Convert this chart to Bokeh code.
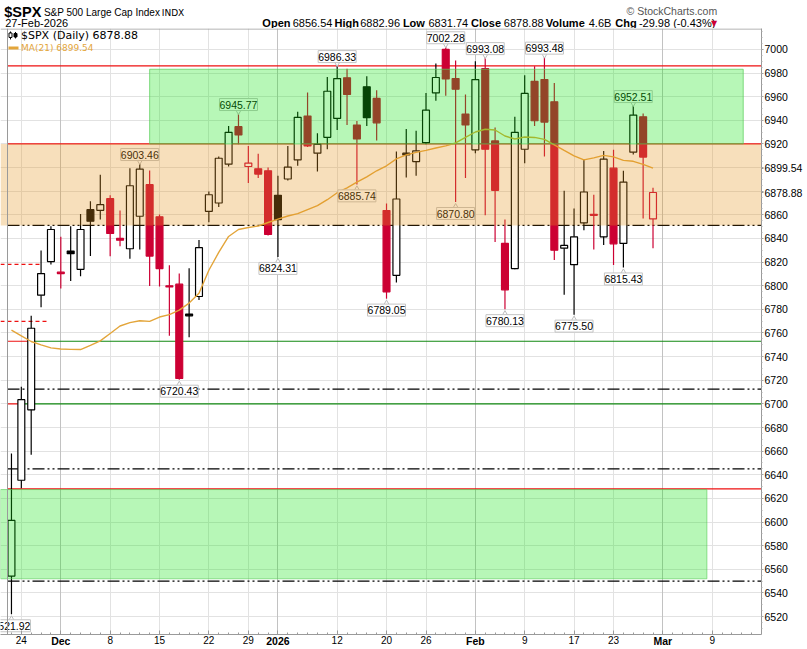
from bokeh.plotting import figure
from bokeh.layouts import column
from bokeh.models import ColumnDataSource, FixedTicker, Grid, Label, Range1d, LinearAxis, Span
from bokeh.core.properties import value
from bokeh.embed import file_html
from bokeh.resources import INLINE

# ---------------- data ----------------
dates = ["2025-11-21", "2025-11-24", "2025-11-25", "2025-11-26", "2025-11-28",
         "2025-12-01", "2025-12-02", "2025-12-03", "2025-12-04", "2025-12-05",
         "2025-12-08", "2025-12-09", "2025-12-10", "2025-12-11", "2025-12-12",
         "2025-12-15", "2025-12-16", "2025-12-17", "2025-12-18", "2025-12-19",
         "2025-12-22", "2025-12-23", "2025-12-24", "2025-12-26", "2025-12-29",
         "2025-12-30", "2025-12-31", "2026-01-02", "2026-01-05", "2026-01-06",
         "2026-01-07", "2026-01-08", "2026-01-09", "2026-01-12", "2026-01-13",
         "2026-01-14", "2026-01-15", "2026-01-16", "2026-01-20", "2026-01-21",
         "2026-01-22", "2026-01-23", "2026-01-26", "2026-01-27", "2026-01-28",
         "2026-01-29", "2026-01-30", "2026-02-02", "2026-02-03", "2026-02-04",
         "2026-02-05", "2026-02-06", "2026-02-09", "2026-02-10", "2026-02-11",
         "2026-02-12", "2026-02-13", "2026-02-17", "2026-02-18", "2026-02-19",
         "2026-02-20", "2026-02-23", "2026-02-24", "2026-02-25", "2026-02-26",
         "2026-02-27"]
opens = [6554.3, 6635.4, 6695.0, 6792.0, 6820.4, 6811.5, 6829.3, 6813.9, 6864.4, 6863.8,
         6873.7, 6840.0, 6831.3, 6858.8, 6885.5, 6858.3, 6800.0, 6801.3, 6776.0, 6790.9,
         6863.0, 6870.0, 6902.9, 6934.6, 6900.9, 6899.0, 6897.3, 6876.5, 6890.3, 6906.5,
         6943.6, 6912.2, 6925.6, 6941.6, 6976.0, 6936.0, 6968.3, 6958.5, 6863.6, 6808.8,
         6912.2, 6905.1, 6921.1, 6963.2, 7000.0, 6975.3, 6945.3, 6915.0, 6983.7, 6922.5,
         6835.8, 6814.5, 6915.5, 6973.0, 6974.5, 6955.6, 6831.8, 6817.8, 6853.2, 6860.5,
         6841.4, 6899.5, 6835.8, 6913.0, 6943.0, 6856.54]
highs = [6658.0, 6714.5, 6774.6, 6829.9, 6850.4, 6841.4, 6850.4, 6860.8, 6871.4, 6893.9,
         6876.5, 6863.6, 6899.5, 6903.46, 6897.5, 6860.2, 6817.3, 6810.3, 6814.7, 6838.6,
         6879.8, 6909.3, 6935.2, 6945.77, 6918.3, 6911.6, 6900.1, 6893.0, 6918.3, 6947.2,
         6963.5, 6929.0, 6976.7, 6986.33, 6983.7, 6939.4, 6977.3, 6965.5, 6869.5, 6913.5,
         6932.6, 6931.2, 6963.2, 6988.0, 7002.28, 6990.7, 6961.9, 6989.9, 6993.08, 6934.0,
         6856.0, 6943.0, 6978.1, 6985.7, 6993.48, 6971.6, 6880.4, 6865.3, 6907.0, 6877.0,
         6914.1, 6915.0, 6897.3, 6952.51, 6945.8, 6882.96]
lows = [6521.92, 6628.6, 6657.0, 6781.7, 6818.0, 6797.6, 6804.0, 6808.0, 6825.1, 6856.0,
        6825.0, 6833.5, 6822.9, 6830.7, 6799.8, 6799.3, 6757.7, 6720.43, 6756.4, 6788.0,
        6853.7, 6866.7, 6901.0, 6919.8, 6886.9, 6891.1, 6842.6, 6824.31, 6889.0, 6901.5,
        6917.4, 6896.7, 6915.5, 6931.8, 6936.0, 6885.74, 6935.2, 6922.8, 6789.05, 6802.7,
        6891.6, 6893.0, 6919.8, 6956.5, 6960.7, 6870.80, 6891.1, 6912.2, 6859.6, 6836.9,
        6780.13, 6814.0, 6903.7, 6935.2, 6909.3, 6821.7, 6792.3, 6775.50, 6847.0, 6830.7,
        6834.4, 6817.5, 6815.43, 6911.0, 6856.8, 6831.74]
closes = [6601.4, 6703.6, 6764.0, 6810.3, 6847.6, 6810.3, 6827.1, 6847.6, 6854.6, 6868.6,
          6844.2, 6838.5, 6884.6, 6898.7, 6825.1, 6814.5, 6799.0, 6721.5, 6774.5, 6832.2,
          6877.0, 6907.9, 6929.8, 6927.6, 6903.8, 6894.5, 6843.4, 6856.0, 6900.4, 6942.5,
          6918.3, 6919.7, 6964.6, 6975.3, 6961.9, 6924.2, 6942.2, 6937.9, 6794.8, 6873.4,
          6910.7, 6914.1, 6948.6, 6976.2, 6975.0, 6966.3, 6936.0, 6974.5, 6915.5, 6880.7,
          6796.5, 6929.8, 6962.7, 6939.6, 6938.5, 6830.1, 6834.1, 6841.4, 6879.3, 6859.6,
          6907.1, 6835.5, 6887.7, 6944.4, 6908.86, 6878.88]
ma21 = [6762.5, 6757.5, 6752.8, 6750.0, 6747.4, 6746.5, 6746.1, 6746.0, 6749.5, 6753.3,
        6759.6, 6765.9, 6768.8, 6770.4, 6769.8, 6773.5, 6775.6, 6779.4, 6785.3, 6793.7,
        6813.1, 6828.2, 6841.7, 6847.6, 6849.3, 6850.5, 6853.5, 6856.4, 6859.0, 6861.0,
        6864.4, 6867.8, 6872.8, 6878.7, 6882.9, 6887.6, 6892.2, 6897.3, 6901.5, 6907.4,
        6910.7, 6912.8, 6914.5, 6916.6, 6918.3, 6920.8, 6925.5, 6930.1, 6932.4, 6931.8,
        6926.7, 6924.2, 6925.9, 6925.5, 6923.8, 6919.2, 6914.5, 6909.9, 6906.5, 6908.2,
        6910.3, 6909.0, 6906.1, 6905.3, 6902.7, 6899.54]
prev_close = 6538.76

symbol = "$SPX"
name = "S&P 500 Large Cap Index"
exchange = "INDX"
last_date = "27-Feb-2026"
q_open, q_high, q_low, q_close = 6856.54, 6882.96, 6831.74, 6878.88
q_volume = "4.6B"
q_chg, q_chg_pct = -29.98, -0.43
ma_last = 6899.54

xtick_pos = [1, 5, 10, 15, 20, 24, 27, 33, 38, 42, 47, 52, 57, 61, 66, 71]
xtick_labels = ["24", "Dec", "8", "15", "22", "29", "2026", "12", "20", "26",
                "Feb", "9", "17", "23", "Mar", "9"]
month_labels = ["Dec", "2026", "Feb", "Mar"]
ytick_vals = list(range(6520, 7001, 20))

above_idx = [13, 23, 33, 44, 48, 54, 63]
below_idx = [0, 17, 27, 35, 38, 45, 50, 57, 62]

red_levels = [6986.0, 6920.0, 6628.0]
green_levels = [6753.0, 6700.0]
green_red_end = [1.73, 0.92]
dashdot_levels = [6851.0, 6712.5, 6645.0, 6550.0]
red_dash_levels = [6818.0, 6769.8]
red_dash_end = [2.94, 3.75]

orange_zone = [6851.0, 6920.0]
green_zone_top = [14.0, 74.14, 6920.0, 6983.2]
green_zone_bottom = [70.46, 6552.0, 6627.5]

# ---------------- layout ----------------
W = 807
HEAD_H = 28
MAIN_H = 649 - HEAD_H
RIGHT, BOTTOM = 46, 12
X_PER_DAY, X_AT_0 = 9.87, 10.96       # page pixels
Y_PER_PT, Y_AT_7000 = 1.1875, 49.0


def dx(page_x):
    return (page_x - X_AT_0) / X_PER_DAY


def dy(page_y):
    return 7000.0 - (page_y - Y_AT_7000) / Y_PER_PT


X0, X1 = dx(0), dx(W - RIGHT)
Y1, Y0 = dy(HEAD_H), dy(649 - BOTTOM)
PY = 1.0 / Y_PER_PT

RED = "#CC0033"
MA_COL = "#E3A53A"
ORANGE = (230, 150, 30)
GREEN = (15, 228, 15)
FONT = "Liberation Sans"
AXIS_GRAY = "#9a9a9a"

# ---------------- header ----------------
head = figure(width=W, height=HEAD_H, x_range=Range1d(0, W), y_range=Range1d(HEAD_H, 0),
              output_backend="svg", toolbar_location=None, x_axis_type=None,
              y_axis_type=None, title=None, min_border=0)
head.outline_line_color = None
head.grid.visible = False


def htext(t, x, y, size="11px", bold=False, color="black", align="left", font=FONT):
    head.text([x], [y], text=[t], text_font=value(font), text_font_size=value(size),
              text_font_style="bold" if bold else "normal", text_color=color,
              text_align=align, text_baseline="middle")


htext(symbol, 4, 11.5, size="14.5px", bold=True)
htext(name, 46, 12, size="10px")
htext(exchange, 171, 12, size="9px", font="DejaVu Sans")
htext(last_date, 5, 22.5, size="11px")
htext("\u00a9 StockCharts.com", 760, 10.5, size="10.5px", color="#555555", align="right")
pieces = [("Open", True, 277.7), ("%.2f" % q_open, False, 309.8),
          ("High", True, 354.3), ("%.2f" % q_high, False, 381.5),
          ("Low", True, 426.7), ("%.2f" % q_low, False, 453.8),
          ("Close", True, 499.0), ("%.2f" % q_close, False, 533.8),
          ("Volume", True, 578.3), (q_volume, False, 623.8),
          ("Chg", True, 652.0), ("%.2f (%.2f%%)" % (q_chg, q_chg_pct), False, 677.0)]
for t, b, px in pieces:
    htext(t, px, 22.5, size="11px", bold=b)
htext("\u25bc", 753.5, 22.5, size="8px", font="DejaVu Sans", color=RED)

# ---------------- main chart ----------------
p = figure(width=W, height=MAIN_H, x_range=Range1d(X0, X1), y_range=Range1d(Y0, Y1),
           output_backend="svg", toolbar_location=None, y_axis_location="right",
           title=None, min_border_left=0, min_border_right=RIGHT,
           min_border_top=0, min_border_bottom=BOTTOM)
p.outline_line_color = None
p.background_fill_color = "white"

# x axis (day numbers) + bold month labels on a second, overlaid axis
xa = p.xaxis[0]
xa.ticker = FixedTicker(ticks=xtick_pos, minor_ticks=list(range(0, 77)))
xa.major_label_overrides = {pos: ("" if lab in month_labels else lab)
                            for pos, lab in zip(xtick_pos, xtick_labels)}
xa.major_tick_in = 4
xa.major_tick_out = 0
xa.minor_tick_in = 2
xa.minor_tick_out = 0
xa.major_label_standoff = 1
xa.axis_line_color = AXIS_GRAY
xa.major_tick_line_color = AXIS_GRAY
xa.minor_tick_line_color = AXIS_GRAY
xa.major_label_text_font = FONT
xa.major_label_text_font_size = "10px"
xa.major_label_text_color = "black"

month_pos = [pos for pos, lab in zip(xtick_pos, xtick_labels) if lab in month_labels]
ma_axis = LinearAxis(ticker=FixedTicker(ticks=month_pos),
                     major_label_overrides={pos: lab for pos, lab in
                                            zip(xtick_pos, xtick_labels)
                                            if lab in month_labels},
                     major_label_standoff=-12, major_tick_in=0, major_tick_out=0,
                     minor_tick_in=0, minor_tick_out=0, axis_line_color=None,
                     major_tick_line_color=None, minor_tick_line_color=None,
                     major_label_text_font=FONT, major_label_text_font_size="10.5px",
                     major_label_text_font_style="bold", major_label_text_color="black")
p.add_layout(ma_axis, "below")

# y axis on the right, with the two last-value tags as labels
ya = p.yaxis[0]
tag_vals = [q_close, ma_last]
ya.ticker = FixedTicker(ticks=ytick_vals + tag_vals,
                        minor_ticks=list(range(6510, 7016, 5)))
overrides = {v: str(v) for v in ytick_vals}
overrides[6880] = ""
overrides[6900] = ""
overrides[q_close] = "%.2f" % q_close
overrides[ma_last] = "%.2f" % ma_last
ya.major_label_overrides = overrides
ya.major_tick_in = 0
ya.major_tick_out = 2
ya.minor_tick_in = 0
ya.minor_tick_out = 1
ya.major_label_standoff = 1
ya.axis_line_color = AXIS_GRAY
ya.major_tick_line_color = AXIS_GRAY
ya.minor_tick_line_color = "#b0b0b0"
ya.major_label_text_font = FONT
ya.major_label_text_font_size = "10.5px"
ya.major_label_text_color = "black"

# grids
week_ticks = [pos for pos, lab in zip(xtick_pos, xtick_labels) if lab not in month_labels]
p.xgrid.ticker = FixedTicker(ticks=week_ticks)
p.xgrid.grid_line_color = "#e2e2e2"
p.add_layout(Grid(dimension=0, ticker=FixedTicker(ticks=month_pos),
                  grid_line_color="#c2c2c2"))
p.ygrid.ticker = FixedTicker(ticks=ytick_vals)
p.ygrid.grid_line_color = "#e2e2e2"

# frame edges (left and top)
LEFT_EDGE = dx(7)
p.add_layout(Span(location=LEFT_EDGE, dimension="height", line_color=AXIS_GRAY,
                  line_width=1))
p.add_layout(Span(location=Y1 - 0.5 * PY, dimension="width", line_color=AXIS_GRAY,
                  line_width=1))

# horizontal reference lines
p.segment(x0=[LEFT_EDGE] * len(red_levels), x1=[X1] * len(red_levels), y0=red_levels,
          y1=red_levels, line_color="#EE1111", line_width=1.2)
p.segment(x0=green_red_end, x1=[X1] * len(green_levels), y0=green_levels,
          y1=green_levels, line_color="#118811", line_width=1.2)
p.segment(x0=[LEFT_EDGE] * len(green_levels), x1=green_red_end, y0=green_levels,
          y1=green_levels, line_color="#EE1111", line_width=1.2)
p.segment(x0=[LEFT_EDGE] * len(dashdot_levels), x1=[X1] * len(dashdot_levels),
          y0=dashdot_levels, y1=dashdot_levels, line_color="black", line_width=1.3,
          line_dash="12 3 2 3 2 3")
p.segment(x0=[X0] * len(red_dash_levels), x1=red_dash_end, y0=red_dash_levels,
          y1=red_dash_levels, line_color="#EE1111", line_width=1.2, line_dash="4 3")

# candles
N = len(closes)
idx = list(range(N))
prevs = [prev_close] + closes[:-1]
col = ["black" if c >= pc else RED for c, pc in zip(closes, prevs)]
fill = ["white" if c > o else cc for c, o, cc in zip(closes, opens, col)]
src = ColumnDataSource(dict(
    x=idx, date=dates, open=opens, high=highs, low=lows, close=closes,
    top=[max(o, c) for o, c in zip(opens, closes)],
    bot=[min(o, c) for o, c in zip(opens, closes)],
    col=col, fill=fill))
p.segment(x0="x", x1="x", y0="low", y1="high", line_color="col", line_width=1.2,
          source=src)
p.vbar(x="x", width=0.7, top="top", bottom="bot", fill_color="fill",
       line_color="col", line_width=1.2, source=src)

# moving average
p.line(idx, ma21, line_color=MA_COL, line_width=1.4)

# high / low labels
lab_x = above_idx + below_idx
lab_v = [highs[i] for i in above_idx] + [lows[i] for i in below_idx]
lab_y = [highs[i] + 9 * PY for i in above_idx] + [lows[i] - 11.5 * PY for i in below_idx]
p.scatter(above_idx, [highs[i] + 3 * PY for i in above_idx],
          marker="inverted_triangle", size=7, fill_color="white", line_color="#bdbdbd")
p.scatter(below_idx, [lows[i] - 5.5 * PY for i in below_idx],
          marker="triangle", size=7, fill_color="white", line_color="#bdbdbd")
p.rect(lab_x, lab_y, width=38, height=12, width_units="screen", height_units="screen",
       fill_color="white", line_color="#c4c4c4")
p.text(lab_x, lab_y, text=["%.2f" % v for v in lab_v], text_align="center",
       text_baseline="middle", text_font=value(FONT), text_font_size=value("10.5px"),
       text_color="black")

# legend (inside the frame, top left)
p.segment(x0=[dx(8)], x1=[dx(18)], y0=[dy(47.5)], y1=[dy(47.5)], line_color=MA_COL,
          line_width=3)
p.segment(x0=[dx(10), dx(15)], x1=[dx(10), dx(15)], y0=[dy(39), dy(38)],
          y1=[dy(31), dy(31.5)], line_color="black", line_width=1)
p.vbar(x=[dx(10), dx(15)], width=3 / X_PER_DAY, top=[dy(32.5), dy(33)],
       bottom=[dy(37), dy(36.5)], fill_color=["white", "black"], line_color="black")
p.add_layout(Label(x=dx(20.5), y=dy(35), text="%s (Daily) %.2f" % (symbol, q_close),
                   text_font="DejaVu Sans", text_font_size="11px", text_color="black",
                   text_baseline="middle"))
p.add_layout(Label(x=dx(20.5), y=dy(47.5), text="MA(21) %.2f" % ma_last,
                   text_font="DejaVu Sans", text_font_size="9px", text_color=MA_COL,
                   text_baseline="middle"))

# zones (translucent, drawn on top as in the original)
p.quad(left=[X0], right=[X1], bottom=[orange_zone[0]], top=[orange_zone[1]],
       fill_color=ORANGE, fill_alpha=0.3, line_color=None)
p.quad(left=[green_zone_top[0]], right=[green_zone_top[1]], bottom=[green_zone_top[2]],
       top=[green_zone_top[3]], fill_color=GREEN, fill_alpha=0.3,
       line_color="#55cc55", line_alpha=0.7)
p.quad(left=[X0], right=[green_zone_bottom[0]], bottom=[green_zone_bottom[1]],
       top=[green_zone_bottom[2]], fill_color=GREEN, fill_alpha=0.3,
       line_color="#55cc55", line_alpha=0.6)

layout = column(head, p, spacing=0)
open("out.html", "w").write(file_html(layout, INLINE))
